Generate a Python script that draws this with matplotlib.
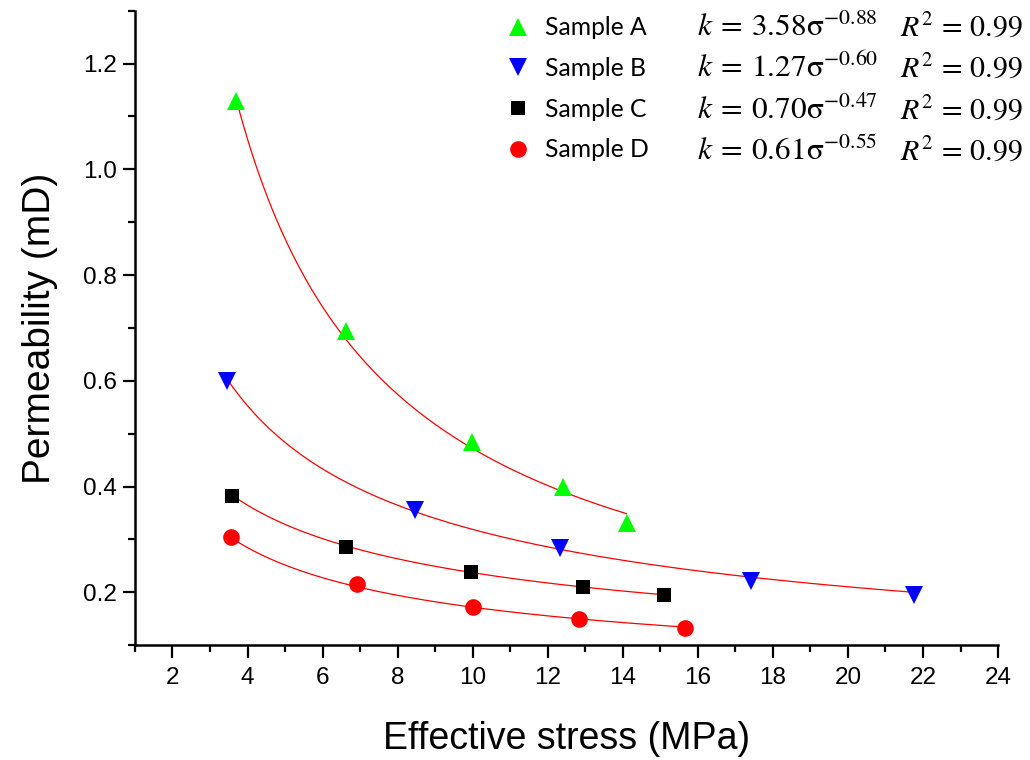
import numpy as np
import matplotlib
matplotlib.use("Agg")
import matplotlib.pyplot as plt
from matplotlib.ticker import MultipleLocator
from matplotlib.lines import Line2D

# measured points (effective stress in MPa, permeability in mD)
a_x = [3.70, 6.62, 9.98, 12.40, 14.10]
a_y = [1.129, 0.695, 0.485, 0.399, 0.331]
b_x = [3.45, 8.47, 12.33, 17.42, 21.77]
b_y = [0.599, 0.355, 0.283, 0.221, 0.195]
c_x = [3.58, 6.62, 9.95, 12.93, 15.10]
c_y = [0.382, 0.286, 0.238, 0.211, 0.195]
d_x = [3.56, 6.91, 10.02, 12.84, 15.67]
d_y = [0.304, 0.216, 0.173, 0.150, 0.133]

# power-law fits k = a * sigma^b from the legend
fit_a = [3.58, 1.27, 0.70, 0.61]
fit_b = [-0.88, -0.60, -0.47, -0.55]
r2 = [0.99, 0.99, 0.99, 0.99]

names = ["Sample A", "Sample B", "Sample C", "Sample D"]
colors = ["#00ff00", "#0000ff", "#000000", "#ff0000"]
markers = ["^", "v", "s", "o"]
msizes = [13, 13, 9.8, 12]

plt.rcParams['font.family'] = ['Liberation Sans', 'DejaVu Sans']
plt.rcParams['mathtext.fontset'] = 'stix'

fig = plt.figure(figsize=(10.3, 7.6), dpi=100)
ax = fig.add_axes([0.131, 0.151, 0.838, 0.835])

xs = [a_x, b_x, c_x, d_x]
ys = [a_y, b_y, c_y, d_y]
for i in range(4):
    ax.plot(xs[i], ys[i], linestyle='none', marker=markers[i], ms=msizes[i],
            color=colors[i], mew=0, zorder=3)
    sx = np.linspace(min(xs[i]), max(xs[i]), 200)
    ax.plot(sx, fit_a[i] * sx ** fit_b[i], color='#ff0000', lw=0.9, zorder=2)

ax.set_xlim(1, 24)
ax.set_ylim(0.1, 1.3)
ax.xaxis.set_minor_locator(MultipleLocator(1))
ax.yaxis.set_minor_locator(MultipleLocator(0.1))
ax.set_xticks(np.arange(2, 25, 2))
ax.set_yticks([0.2, 0.4, 0.6, 0.8, 1.0, 1.2])
ax.set_yticklabels(["0.2", "0.4", "0.6", "0.8", "1.0", "1.2"])

for s in ['top', 'right']:
    ax.spines[s].set_visible(False)
for s in ['left', 'bottom']:
    ax.spines[s].set_linewidth(1.8)
ax.tick_params(which='major', direction='out', length=9, width=1.6,
               labelsize=17.5)
ax.tick_params(axis='x', which='major', pad=7)
ax.tick_params(axis='y', which='major', pad=4)
ax.tick_params(which='minor', direction='out', length=5, width=1.6)

ax.set_xlabel("Effective stress (MPa)", fontsize=27, labelpad=23)
ax.set_ylabel("Permeability (mD)", fontsize=28, labelpad=18)

# legend with fit equations
handles = [Line2D([], [], linestyle='none', marker=markers[i], ms=msizes[i],
                  color=colors[i], mew=0) for i in range(4)]
ax.legend(handles, names, loc='upper left', bbox_to_anchor=(0.4015, 1.026),
          frameon=False, prop={'family': 'Lato', 'size': 17.7},
          handletextpad=0.55, labelspacing=0.72, handlelength=1.15)

row_base = [36, 77, 119, 160]
for i in range(4):
    yb = 1 - row_base[i] / 760
    eq = r"$k\:=\:%.2f\mathrm{\sigma}^{%.2f}$" % (fit_a[i], fit_b[i])
    fig.text(697 / 1030, yb, eq, fontsize=22.5, va='baseline', ha='left')
    fig.text(900 / 1030, yb, r"$R^2\,=\,%.2f$" % r2[i],
             fontsize=21.5, va='baseline', ha='left')

fig.savefig("out.png", dpi=100)
